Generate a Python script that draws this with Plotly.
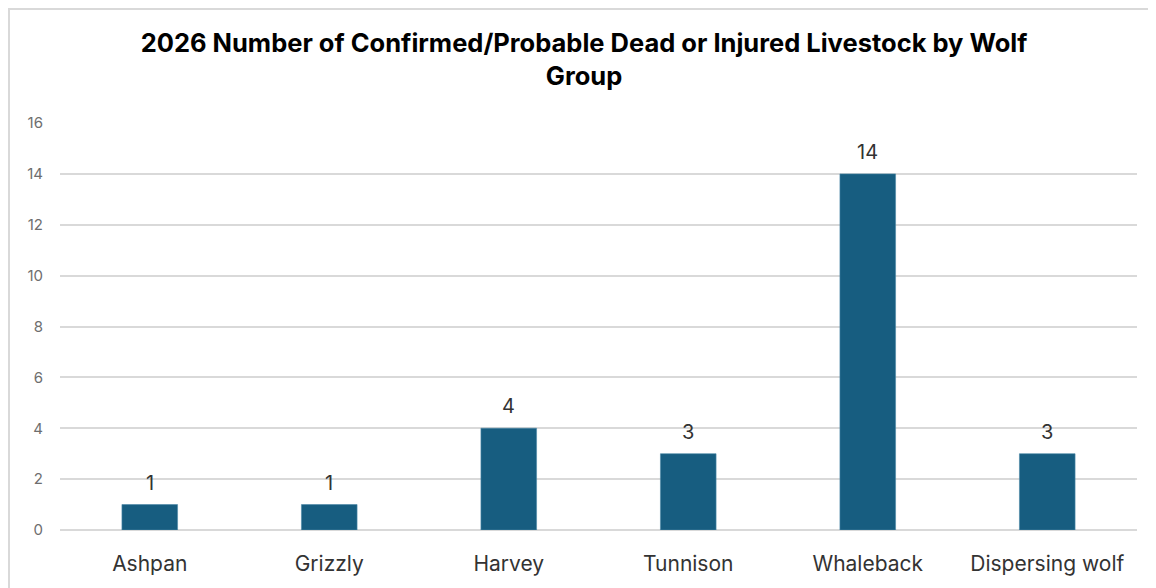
import plotly.graph_objects as go

categories = ["Ashpan", "Grizzly", "Harvey", "Tunnison", "Whaleback", "Dispersing wolf"]
values = [1, 1, 4, 3, 14, 3]
y_ticks = [0, 2, 4, 6, 8, 10, 12, 14, 16]

W, H = 1156, 588
OFF = 8  # page body offset
ml, mr, mt, mb = 60 - OFF, 19 + OFF, 123 - OFF, 58 + OFF
pw, ph = W - ml - mr, H - mt - mb

def fx(x):
    # figure pixel -> paper x
    return (x - ml) / pw

def fy(y):
    # figure pixel (from top) -> paper y
    return (H - mb - y) / ph

fig = go.Figure(go.Bar(
    x=categories, y=values,
    marker=dict(color="#175d80", line=dict(color="#4a86a6", width=0.6)),
))

annotations = [
    dict(x=c, y=v, text=str(v), showarrow=False, xref="x", yref="y",
         yanchor="bottom", yshift=8,
         font=dict(family="Inter, Lato, sans-serif", size=20, color="#333333"))
    for c, v in zip(categories, values)
]

fig.update_layout(
    width=W, height=H,
    margin=dict(l=ml, r=mr, t=mt, b=mb),
    paper_bgcolor="white", plot_bgcolor="white",
    bargap=0.69,
    showlegend=False,
    title=dict(
        text="2026 Number of Confirmed/Probable Dead or Injured Livestock by Wolf<br>Group",
        x=(584 - OFF) / W, xanchor="center", y=1 - 44 / H, yanchor="top",
        font=dict(family="Inter, Lato, sans-serif", size=25.5, color="#000000", weight="bold"),
    ),
    font=dict(family="Inter, Lato, sans-serif"),
    xaxis=dict(
        showgrid=False, showline=False, ticks="",
        tickfont=dict(size=21, color="#333333"),
        ticklabelstandoff=19,
    ),
    yaxis=dict(
        range=[0, 16], tickvals=y_ticks,
        showgrid=True, gridcolor="#d9d9d9", gridwidth=1.5,
        zeroline=True, zerolinecolor="#d9d9d9", zerolinewidth=1.5,
        tickfont=dict(size=15, color="#6e6e6e"),
        ticklabelstandoff=16,
    ),
    annotations=annotations,
    shapes=[
        dict(type="line", xref="paper", yref="paper",
             x0=fx(0), x1=fx(W + 20),
             y0=fy(1), y1=fy(1),
             line=dict(color="#d9d9d9", width=2)),
        dict(type="line", xref="paper", yref="paper",
             x0=fx(1), x1=fx(1),
             y0=fy(0), y1=fy(H + 20),
             line=dict(color="#d9d9d9", width=2)),
    ],
)

fig.write_html("out.html")
